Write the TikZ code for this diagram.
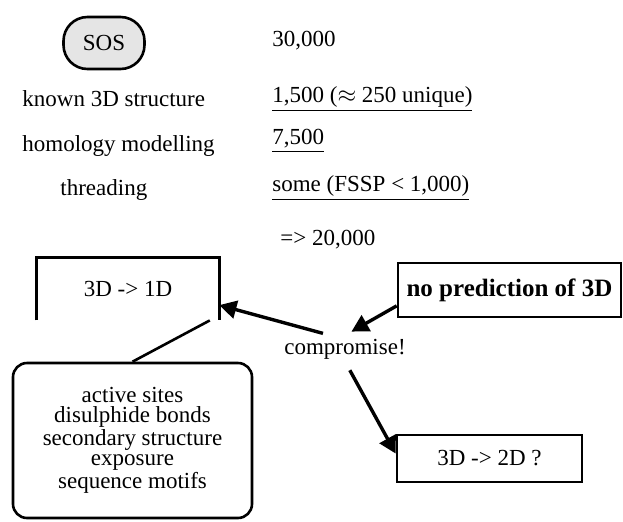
\documentclass[tikz,border=0pt]{standalone}
\usepackage{fontspec}
\setmainfont{Liberation Serif}
\usetikzlibrary{arrows.meta, positioning}

\begin{document}
\begin{tikzpicture}[x=0.5pt,y=-0.5pt,>={Triangle[length=8.5pt,width=9pt]},
	font=\fontsize{11.5}{13}\selectfont,
	txt/.style={anchor=west, inner sep=0pt},
	box/.style={rectangle, draw, line width=1.3pt, inner sep=0pt},
	arr/.style={->, line width=1.7pt}]

		\useasboundingbox (0,0) rectangle (623,521);

		\node (sos) [box, rounded corners=12pt, fill=gray!20, minimum width=40.5pt, minimum height=26pt] at (104,43) {SOS};
		\node (all) [txt] at (272,41) {30,000};

		\node (known) [txt] at (22,99) {known 3D structure};
		\node (nknown) [txt] at (272,99) {\underline{1,500 ($\approx$ 250 unique)}};
		\node (homol) [txt] at (22,146) {homology modelling};
		\node (nhomol) [txt] at (272,141) {\underline{7,500}};
		\node (thread) [txt] at (60,190) {threading};
		\node (nthread) [txt] at (272,188) {\underline{some (FSSP < 1,000)}};
		\node (rest) [txt] at (280,240) {=> 20,000};

		\node (oned) [minimum width=91pt, minimum height=31pt, inner sep=0pt] at (128,289) {3D -> 1D};
		\draw [line width=1.3pt] (oned.south west) -- (oned.north west) -- (oned.north east) -- (oned.south east);
		\node (nopred) [box, minimum width=111.5pt, minimum height=27pt, font=\fontsize{12.5}{13}\selectfont\bfseries] at (509.5,290) {no prediction of 3D};
		\node (comp) [inner sep=1pt] at (345,349) {compromise!};
		\node (twod) [box, minimum width=92.5pt, minimum height=23.5pt] at (489.5,458.5) {3D -> 2D ?};
		\node (feat) [box, rounded corners=7pt, minimum width=119.5pt, minimum height=77.5pt, align=center,
			font=\fontsize{11.5}{10}\selectfont] at (132.5,440.5)
			{active sites\\disulphide bonds\\secondary structure\\exposure\\sequence motifs};

		\draw [arr, shorten >=5pt] (nopred.188) -- (comp.100);
		\draw [arr, shorten <=6pt] (comp.130) -- (oned.350);
		\draw [arr, shorten <=5pt] (comp.south) -- (twod.177);
		\draw [line width=1.3pt] (feat.north) -- (oned.-21);

	\end{tikzpicture}
\end{document}
